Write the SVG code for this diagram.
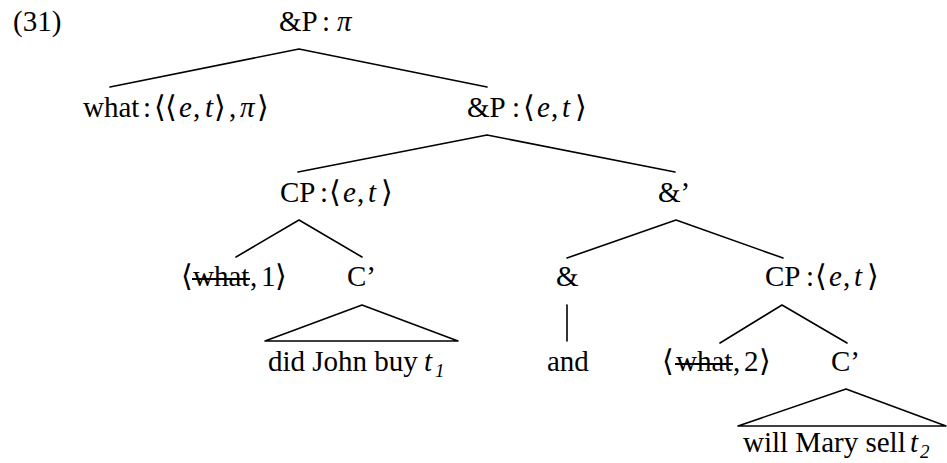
<svg xmlns="http://www.w3.org/2000/svg" width="947" height="463" viewBox="0 0 947 463">
  <style>
    text { font-family: "Liberation Serif", "Times New Roman", serif; font-size: 29px; fill: #000; }
    .m { font-style: italic; }
    .b { font-family: "DejaVu Sans", "Noto Sans", sans-serif; font-size: 30px; font-weight: 200; }
    .sub { font-style: italic; font-size: 19px; }
    .edge { stroke: #000; stroke-width: 1.6; fill: none; stroke-linecap: round; stroke-linejoin: round; }
    .strike { stroke: #000; stroke-width: 2; }
  </style>
  <rect width="947" height="463" fill="#fff"/>

  <!-- example number -->
  <text x="13" y="31">(31)</text>

  <!-- tree edges -->
  <g id="connectors">
    <polyline class="edge" points="110,87 299,49 487,87"/>
    <polyline class="edge" points="298,172 487,135 675,172"/>
    <polyline class="edge" points="236,257 299,220 362,257"/>
    <polyline class="edge" points="567,258 676,220 783,258"/>
    <polygon class="edge" points="362,305 265,341 458,341"/>
    <line class="edge" x1="567" y1="305" x2="567" y2="341"/>
    <polyline class="edge" points="720,343 782,305 847,343"/>
    <polygon class="edge" points="846,389 738,426 946,426"/>
  </g>

  <!-- root -->
  <g id="n-root">
    <text x="279" y="31">&amp;P<tspan x="322">:</tspan><tspan x="337" class="m">π</tspan></text>
  </g>

  <!-- what : <<e,t>,pi> -->
  <g id="n-what">
    <text x="83" y="117">what<tspan x="143">:</tspan><tspan x="154" class="b">⟨</tspan><tspan x="165" class="b">⟨</tspan><tspan x="179" class="m">e</tspan><tspan x="193">,</tspan><tspan x="205" class="m">t</tspan><tspan x="214" class="b">⟩</tspan><tspan x="229">,</tspan><tspan x="240" class="m">π</tspan><tspan x="257" class="b">⟩</tspan></text>
  </g>

  <!-- &P : <e,t> -->
  <g id="n-andP">
    <text x="467" y="117">&amp;P<tspan x="512">:</tspan><tspan x="523" class="b">⟨</tspan><tspan x="537" class="m">e</tspan><tspan x="551">,</tspan><tspan x="562" class="m">t</tspan><tspan x="575" class="b">⟩</tspan></text>
  </g>

  <!-- CP : <e,t> (left conjunct) -->
  <g id="n-cp1">
    <text x="280" y="202">CP<tspan x="320">:</tspan><tspan x="329" class="b">⟨</tspan><tspan x="343" class="m">e</tspan><tspan x="357">,</tspan><tspan x="368" class="m">t</tspan><tspan x="381" class="b">⟩</tspan></text>
  </g>

  <!-- &' -->
  <g id="n-andbar">
    <text x="658" y="202">&amp;’</text>
  </g>

  <!-- <what,1> -->
  <g id="n-what1">
    <text x="181" y="286"><tspan class="b">⟨</tspan><tspan x="193">what</tspan><tspan x="250">,</tspan><tspan x="261">1</tspan><tspan x="275" class="b">⟩</tspan></text>
    <line class="strike" x1="192" y1="279" x2="250" y2="279"/>
  </g>

  <!-- C' (left) -->
  <g id="n-cbar1">
    <text x="347" y="286">C’</text>
  </g>

  <!-- & -->
  <g id="n-and">
    <text x="556" y="286">&amp;</text>
  </g>

  <!-- CP : <e,t> (right conjunct) -->
  <g id="n-cp2">
    <text x="765" y="286">CP<tspan x="806">:</tspan><tspan x="815" class="b">⟨</tspan><tspan x="829" class="m">e</tspan><tspan x="843">,</tspan><tspan x="854" class="m">t</tspan><tspan x="867" class="b">⟩</tspan></text>
  </g>

  <!-- did John buy t1 -->
  <g id="n-did">
    <text x="268" y="371">did John buy<tspan x="424" class="m">t</tspan><tspan x="435" y="377" class="sub">1</tspan></text>
  </g>

  <!-- and -->
  <g id="n-andword">
    <text x="547" y="371">and</text>
  </g>

  <!-- <what,2> -->
  <g id="n-what2">
    <text x="662" y="371"><tspan class="b">⟨</tspan><tspan x="676">what</tspan><tspan x="733">,</tspan><tspan x="744">2</tspan><tspan x="759" class="b">⟩</tspan></text>
    <line class="strike" x1="675" y1="364" x2="733" y2="364"/>
  </g>

  <!-- C' (right) -->
  <g id="n-cbar2">
    <text x="831" y="371">C’</text>
  </g>

  <!-- will Mary sell t2 -->
  <g id="n-will">
    <text x="743" y="452">will Mary sell<tspan x="910" class="m">t</tspan><tspan x="920" y="458" class="sub">2</tspan></text>
  </g>
</svg>
